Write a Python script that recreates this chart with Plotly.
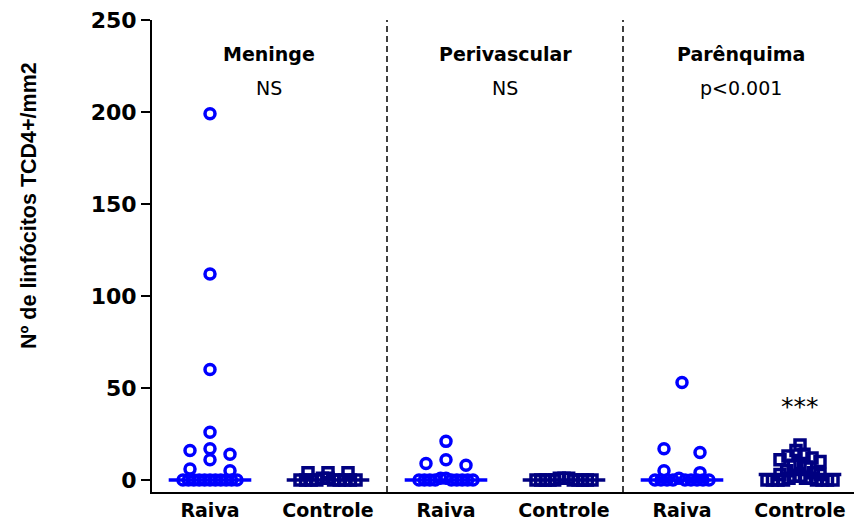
import numpy as np
import plotly.graph_objects as go

# Group layout: three brain regions, each with a rabies and a control group
regions = ["Meninge", "Perivascular", "Parênquima"]
p_labels = ["NS", "NS", "p<0.001"]
tick_labels = ["Raiva", "Controle", "Raiva", "Controle", "Raiva", "Controle"]

# CD4+ T lymphocytes per mm2, one value per animal
meninge_raiva = [199, 112, 60, 26, 17, 16, 14, 11, 6, 5, 0, 0, 0, 0, 0, 0, 0, 0, 0, 0, 0]
meninge_controle = [4, 4, 4, 1, 1, 0, 0, 0, 0, 0, 0, 0, 0, 0]
perivascular_raiva = [21, 11, 9, 8, 1, 1, 0, 0, 0, 0, 0, 0, 0, 0, 0]
perivascular_controle = [1, 1, 1, 0, 0, 0, 0, 0, 0, 0, 0, 0, 0]
parenquima_raiva = [53, 17, 15, 5, 4, 1, 0, 0, 0, 0, 0, 0, 0, 0, 0]
parenquima_controle = [19, 16, 14, 13, 12, 11, 10, 9, 8, 7, 5, 4, 3, 3, 2, 2,
                       1, 1, 1, 0, 0, 0, 0, 0, 0, 0, 0]

groups = [meninge_raiva, meninge_controle,
          perivascular_raiva, perivascular_controle,
          parenquima_raiva, parenquima_controle]

# Figure geometry
W, H = 854, 524
M_L, M_R, M_T, M_B = 152, 0, 20, 32
X_RANGE = [0.5085, 6.4576]
Y_RANGE = [-6.52, 250]
PX_X = (W - M_L - M_R) / (X_RANGE[1] - X_RANGE[0])
PX_Y = (H - M_T - M_B) / (Y_RANGE[1] - Y_RANGE[0])

BLUE = "#0000FF"
NAVY = "#000080"


def column_scatter_offsets(vals, base_half_px, band_half_px=20.0,
                           band_px=12.0, base_px=4.0, step_px=36.0):
    """Group points into horizontal bands and spread each band symmetrically."""
    vals = np.asarray(vals, dtype=float)
    ypx = vals * PX_Y
    order = np.argsort(ypx, kind="stable")
    bands, current, start = [], [], None
    for i in order:
        if ypx[i] < base_px:
            current.append(i)
            continue
        if start is None or ypx[i] - start >= band_px:
            if current:
                bands.append((start is None, current))
            current, start = [i], ypx[i]
        else:
            current.append(i)
    if current:
        bands.append((start is None, current))

    offs = np.zeros(len(vals))
    for is_base, idx in bands:
        n = len(idx)
        if n == 1:
            continue
        half = base_half_px if is_base else band_half_px
        step = min(step_px, 2 * half / (n - 1))
        pos = (np.arange(n) - (n - 1) / 2) * step
        slots = np.argsort(np.abs(pos), kind="stable")
        # larger values sit toward the middle of the band
        for rank, k in enumerate(idx[::-1]):
            offs[k] = pos[slots[rank]]
    return offs / PX_X


fig = go.Figure()

for gi, vals in enumerate(groups):
    center = gi + 1
    is_raiva = gi % 2 == 0
    color = BLUE if is_raiva else NAVY
    med = float(np.median(vals))
    fig.add_trace(go.Scatter(
        x=[center - 0.35, center + 0.35], y=[med, med], mode="lines",
        line=dict(color=color, width=3.5), hoverinfo="skip", showlegend=False))
    half = 27.0 if is_raiva else (28.0 if gi < 5 else 33.0)
    offs = column_scatter_offsets(vals, base_half_px=half)
    fig.add_trace(go.Scatter(
        x=[center + o for o in offs], y=vals, mode="markers",
        marker=dict(symbol="circle-open" if is_raiva else "square-open",
                    size=10, color=color, line=dict(width=3.5, color=color)),
        showlegend=False))

# dashed separators between regions
for xs in (2.5, 4.5):
    fig.add_shape(type="line", xref="x", yref="paper", x0=xs, x1=xs, y0=0, y1=1,
                  line=dict(color="black", width=1.5, dash="6px,4px"))

for ri, (name, p) in enumerate(zip(regions, p_labels)):
    xc = 2 * ri + 1.5
    fig.add_annotation(x=xc, y=231.5, xref="x", yref="y", text="<b>%s</b>" % name,
                       showarrow=False,
                       font=dict(family="DejaVu Sans", size=19, color="black"))
    fig.add_annotation(x=xc, y=213, xref="x", yref="y", text=p, showarrow=False,
                       font=dict(family="DejaVu Sans", size=19, color="black"))

fig.add_annotation(x=6, y=40, xref="x", yref="y", text="***", showarrow=False,
                   font=dict(family="DejaVu Sans", size=25, color="black"))

fig.add_annotation(x=(29 - M_L) / (W - M_L - M_R), y=148.9, xref="paper", yref="y",
                   xanchor="center", yanchor="middle",
                   text="<b>Nº de linfócitos TCD4+/mm2</b>", textangle=-90,
                   showarrow=False,
                   font=dict(family="Liberation Sans", size=21.5, color="black"))

fig.update_xaxes(range=X_RANGE, tickvals=[1, 2, 3, 4, 5, 6], ticktext=tick_labels,
                 showline=True, linecolor="black", linewidth=2, ticks="",
                 showgrid=False, zeroline=False,
                 tickfont=dict(family="DejaVu Sans", size=19, color="black", weight="bold"))
fig.update_yaxes(range=Y_RANGE, tickvals=[0, 50, 100, 150, 200, 250],
                 showline=True, linecolor="black", linewidth=2,
                 ticks="outside", ticklen=9, tickwidth=2, tickcolor="black",
                 showgrid=False, zeroline=False,
                 tickfont=dict(family="DejaVu Sans", size=22, color="black", weight="bold"))

fig.update_layout(width=W, height=H, margin=dict(l=M_L, r=M_R, t=M_T, b=M_B),
                  plot_bgcolor="white", paper_bgcolor="white")

fig.write_html("out.html")
